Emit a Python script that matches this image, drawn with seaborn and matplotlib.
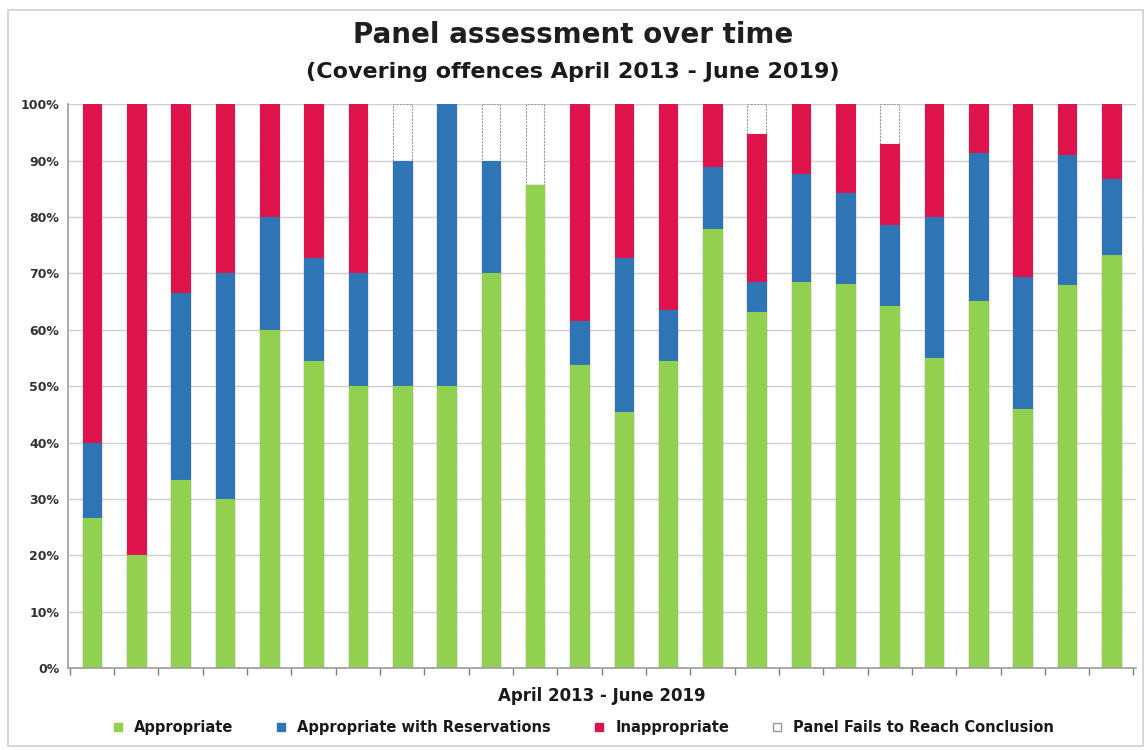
import matplotlib
matplotlib.use("Agg")
import matplotlib.pyplot as plt
from matplotlib.patches import Rectangle
from matplotlib.lines import Line2D
from matplotlib.ticker import FixedLocator, PercentFormatter
import seaborn as sns
import numpy as np
import pandas as pd

# ─────────────────────────────────────────────
# DATA  (share of panel assessments per period, %)
# ─────────────────────────────────────────────
periods = [f"P{i:02d}" for i in range(1, 25)]

appropriate = [26.7, 20.0, 33.3, 30.0, 60.0, 54.5, 50.0, 50.0, 50.0, 70.0, 85.7, 53.8,
               45.5, 54.5, 77.8, 63.2, 68.5, 68.2, 64.3, 55.0, 65.2, 46.0, 68.0, 73.3]
with_reservations = [13.3, 0.0, 33.3, 40.0, 20.0, 18.2, 20.0, 40.0, 50.0, 20.0, 0.0, 7.7,
                     27.3, 9.1, 11.1, 5.2, 19.2, 16.0, 14.3, 25.0, 26.2, 23.4, 23.0, 13.4]
inappropriate = [60.0, 80.0, 33.4, 30.0, 20.0, 27.3, 30.0, 0.0, 0.0, 0.0, 0.0, 38.5,
                 27.2, 36.4, 11.1, 26.3, 12.3, 15.8, 14.3, 20.0, 8.6, 30.6, 9.0, 13.3]
no_conclusion = [0.0, 0.0, 0.0, 0.0, 0.0, 0.0, 0.0, 10.0, 0.0, 10.0, 14.3, 0.0,
                 0.0, 0.0, 0.0, 5.3, 0.0, 0.0, 7.1, 0.0, 0.0, 0.0, 0.0, 0.0]

SERIES = ["Appropriate", "Appropriate with Reservations", "Inappropriate",
          "Panel Fails to Reach Conclusion"]
COLORS = ["#92D050", "#2E75B6", "#E0144C", "#FFFFFF"]

df = pd.DataFrame({
    "period": periods,
    SERIES[0]: appropriate,
    SERIES[1]: with_reservations,
    SERIES[2]: inappropriate,
    SERIES[3]: no_conclusion,
})
# cumulative tops for stacking (draw tallest first, overlay the rest)
cum = df[SERIES].cumsum(axis=1)
cum["period"] = df["period"]

# ─────────────────────────────────────────────
# PLOT
# ─────────────────────────────────────────────
sns.set_theme(style="white")
plt.rcParams["font.family"] = ["DejaVu Sans"]

fig = plt.figure(figsize=(11.46, 7.5), dpi=100)
ax = fig.add_axes([0.059, 0.109, 0.932, 0.752])

for name, color in reversed(list(zip(SERIES, COLORS))):
    edge = "#9a9a9a" if color == "#FFFFFF" else color
    ls = (0, (2, 1)) if color == "#FFFFFF" else "-"
    sns.barplot(data=cum, x="period", y=name, color=color, width=0.42,
                saturation=1, edgecolor=edge, linewidth=0.8, linestyle=ls, ax=ax)

ax.set_ylim(0, 100)
ax.set_xlim(-0.55, len(periods) - 0.45)
ax.set_yticks(np.arange(0, 101, 10))
ax.yaxis.set_major_formatter(PercentFormatter(decimals=0))
ax.tick_params(axis="y", labelsize=9, colors="#333333", length=0, pad=6)
for lbl in ax.get_yticklabels():
    lbl.set_fontweight("bold")

ax.set_xticks([])
ax.xaxis.set_minor_locator(FixedLocator(np.arange(-0.5, len(periods), 1)))
ax.tick_params(axis="x", which="minor", direction="out", length=5, color="#808080", bottom=True)

ax.grid(axis="y", color="#d0d0d0", linewidth=1)
ax.set_axisbelow(True)
for side in ["top", "right"]:
    ax.spines[side].set_visible(False)
for side in ["left", "bottom"]:
    ax.spines[side].set_color("#a0a0a0")

ax.set_xlabel("April 2013 - June 2019", fontsize=12, fontweight="bold", color="#1a1a1a", labelpad=5)
ax.set_ylabel("")

fig.text(0.5, 0.953, "Panel assessment over time", ha="center", va="center",
         fontsize=20, fontweight="heavy", color="#1f1f1f")
fig.text(0.5, 0.904, "(Covering offences April 2013 - June 2019)", ha="center", va="center",
         fontsize=16, fontweight="bold", color="#1a1a1a")

handles = [Line2D([0], [0], marker="s", linestyle="none", markersize=6,
                  markerfacecolor=c, markeredgecolor="#9a9a9a" if c == "#FFFFFF" else c)
           for c in COLORS]
leg = fig.legend(handles, SERIES, loc="center", bbox_to_anchor=(0.505, 0.03), ncol=4,
                 frameon=False, fontsize=10.5, handletextpad=0.1, columnspacing=2.3)
for t in leg.get_texts():
    t.set_fontweight("bold")
    t.set_color("#1a1a1a")

# light frame around the chart area, like the pasted Excel chart
fig.patches.append(Rectangle((0.007, 0.005), 0.99, 0.982, transform=fig.transFigure,
                             fill=False, edgecolor="#d0d0d0", linewidth=1.2))

plt.savefig("out.png", dpi=100)
plt.close()
